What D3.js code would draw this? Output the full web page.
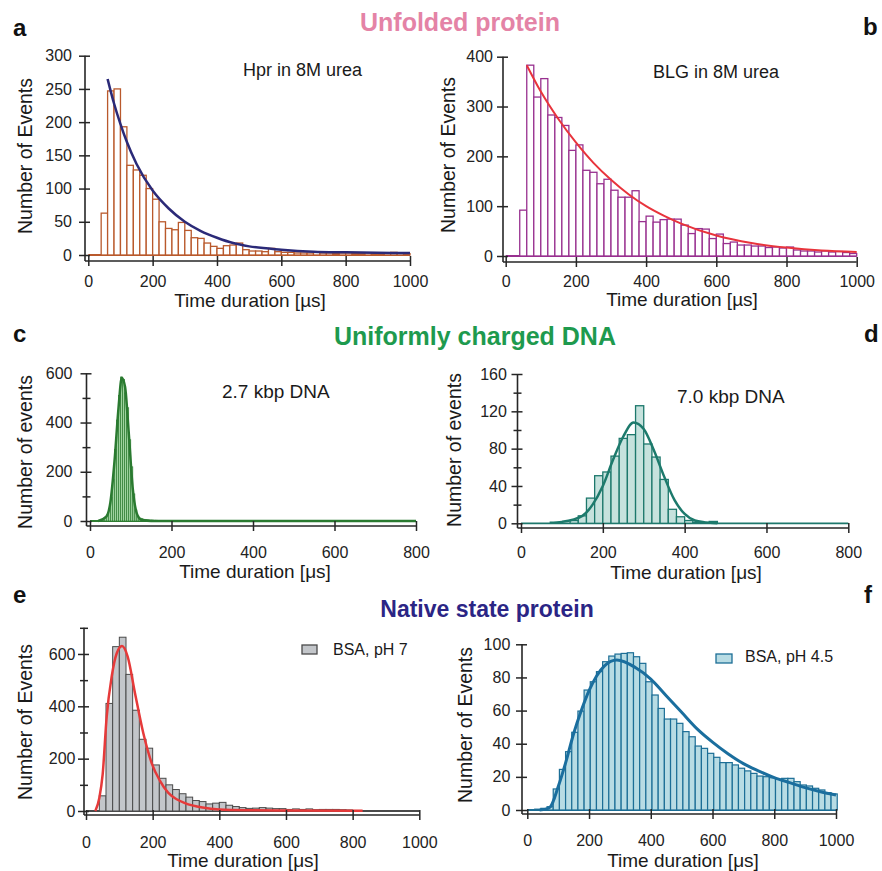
<!DOCTYPE html>
<html>
<head>
<meta charset="utf-8">
<script src="https://cdn.jsdelivr.net/npm/d3@7"></script>
<style>
  body { margin: 0; background: #fff; }
  svg { display: block; font-family: Arial, "Liberation Sans", sans-serif; }
</style>
</head>
<body>
<svg id="chart" width="882" height="871"></svg>
<script>
// Histogram counts, one value per bin (bins)
const hprCounts = [63, 247, 250, 193, 135, 128, 120, 100, 84, 50, 40, 38, 49, 37, 26, 25, 18, 13, 10, 14, 15, 18, 8, 6, 6, 5, 10, 5,
  4, 4, 3, 3, 3, 4, 3, 3, 2, 3, 3, 2, 2, 3, 2, 2, 3, 4, 3, 2];
const blgCounts = [92, 383, 319, 356, 283, 278, 262, 212, 223, 172, 168, 145, 154, 132, 118, 118, 131, 69, 80, 68, 73, 74, 74, 62,
  45, 55, 54, 35, 44, 25, 28, 22, 22, 20, 20, 17, 18, 16, 18, 12, 10, 10, 8, 10, 8, 9, 7, 5];
const dna27Counts = [4, 12, 25, 50, 95, 170, 290, 410, 510, 585, 575, 520, 460, 330, 220, 110, 45, 20, 12, 9, 7, 6, 5, 4, 4, 3, 3, 2, 2, 2];
const dna70Counts = [3, 8, 27, 51, 55, 72, 91, 95, 126, 85, 71, 47, 15, 7, 3, 1, 1, 2];
const bsa7Counts = [58, 411, 628, 664, 522, 385, 274, 240, 176, 125, 100, 82, 66, 53, 40, 36, 27, 30, 33, 22, 17, 13, 10, 11, 13,
  11, 9, 9, 6, 8, 6, 8, 5, 6, 6, 6, 5, 4];
const bsa45Counts = [0.5, 1, 2, 12.7, 24.5, 35.2, 46.9, 59.7, 72.4, 77.4, 83.5, 89.5, 92.9, 94.1, 94.5, 94.9, 92.5, 88.5, 77.4, 69.4,
  61.3, 54.9, 54.9, 52.3, 47.3, 44.2, 38.6, 37.2, 34.2, 31.8, 28.6, 28.6, 27.2, 25.2, 23.6, 22.1, 20.5, 20.1, 19.5, 18.5, 19.1,
  19.1, 17.1, 15.1, 14.5, 13.1, 12.1, 10.5, 9.7];

// Fitted curves, sampled [time, count]
const hprFit = [[60, 265], [80, 228], [100, 197], [120, 170], [150, 137], [200, 97], [250, 70], [300, 50], [350, 36], [400, 26],
  [450, 18], [500, 13], [600, 8], [700, 5], [800, 4], [1000, 3]];
const blgFit = [[60, 383], [100, 330], [150, 275], [200, 228], [250, 187], [300, 153], [350, 124], [400, 100], [450, 81], [500, 65],
  [600, 41], [700, 26], [800, 17], [900, 11], [1000, 8]];
const dna27Fit = [[20, 0], [40, 18], [50, 75], [60, 240], [70, 460], [78, 582], [86, 545], [95, 360], [105, 130], [115, 30],
  [125, 6], [140, 1], [160, 0], [800, 0]];
const dna70Fit = [[70, 0.5], [100, 1.5], [150, 8], [175, 20], [200, 40], [225, 68], [250, 93], [275, 108], [300, 101], [325, 78],
  [350, 50], [375, 25], [400, 10], [425, 3], [450, 1], [480, 0]];
const bsa7Fit = [[28, 0], [40, 50], [50, 140], [62, 360], [77, 513], [92, 602], [108, 630], [125, 590], [147, 450], [172, 297],
  [197, 183], [222, 115], [247, 69], [272, 45], [297, 30], [350, 13], [400, 6], [500, 3], [600, 2], [830, 1]];
const bsa45Fit = [[40, 0], [60, 0.5], [75, 2], [100, 14], [125, 29], [150, 46], [175, 60], [200, 72], [225, 81], [250, 87],
  [290, 90.5], [350, 86], [400, 79], [450, 69], [500, 59], [550, 49], [600, 41], [650, 34], [700, 28], [750, 23.5],
  [800, 19.5], [850, 16.5], [900, 13.5], [950, 11], [1000, 9]];

// Tick values
const ticks1000 = [0, 200, 400, 600, 800, 1000];
const ticks800 = [0, 200, 400, 600, 800];
const hprYTicks = [0, 50, 100, 150, 200, 250, 300];
const blgYTicks = [0, 100, 200, 300, 400];
const dna27YTicks = [0, 200, 400, 600];
const dna27YMinor = [100, 300, 500];
const dna70YTicks = [0, 40, 80, 120, 160];
const dna70YMinor = [20, 60, 100, 140];
const bsa7YTicks = [0, 200, 400, 600];
const bsa7YMinor = [100, 300, 500, 700];
const bsa45YTicks = [0, 20, 40, 60, 80, 100];

const svg = d3.select('#chart');
const axisColor = '#262626';
const fmt = d3.format('d');

const panels = [
  { counts: hprCounts, binStart: 40, binWidth: 20, fit: hprFit, xMax: 1000, yMax: 300, xTicks: ticks1000, yTicks: hprYTicks,
    left: 88.3, right: 410, bottom: 255, top: 55.7, yAxisX: 85, xAxisY: 261, xLabelY: 26, yLabelGap: 13,
    fill: '#fff', stroke: '#b9592c', sw: 1.3, fitColor: '#2b2a78', fitW: 2.5,
    xTitle: [250, 307], yTitle: [32, 156], yText: 'Number of Events', xText: 'Time duration [µs]',
    label: { text: 'Hpr in 8M urea', x: 243, y: 76, size: 18 } },
  { counts: blgCounts, binStart: 40, binWidth: 20, fit: blgFit, xMax: 1000, yMax: 400, xTicks: ticks1000, yTicks: blgYTicks,
    left: 505.7, right: 856.7, bottom: 256, top: 56.7, yAxisX: 503, xAxisY: 262, xLabelY: 25, yLabelGap: 10,
    fill: '#fff', stroke: '#98308f', sw: 1.3, fitColor: '#e8343c', fitW: 2,
    xTitle: [682, 306], yTitle: [455, 155], yText: 'Number of Events', xText: 'Time duration [µs]',
    label: { text: 'BLG in 8M urea', x: 653, y: 78, size: 18 } },
  { counts: dna27Counts, binStart: 30, binWidth: 5, fit: dna27Fit, xMax: 800, yMax: 600, xTicks: ticks800, yTicks: dna27YTicks,
    yMinor: dna27YMinor, left: 90, right: 416, bottom: 521, top: 373.3, yAxisX: 86.5, xAxisY: 526, xLabelY: 32, yLabelGap: 14,
    fill: '#9fd39f', stroke: '#2e7d32', sw: 0.7, fitColor: '#2a7a30', fitW: 2.5,
    xTitle: [255, 578], yTitle: [32, 452], yText: 'Number of events', xText: 'Time duration [μs]',
    label: { text: '2.7 kbp DNA', x: 222, y: 398, size: 19 } },
  { counts: dna70Counts, binStart: 120, binWidth: 20, fit: dna70Fit, xMax: 800, yMax: 160, xTicks: ticks800, yTicks: dna70YTicks,
    yMinor: dna70YMinor, left: 521, right: 848.3, bottom: 523.3, top: 374, yAxisX: 517.5, xAxisY: 528, xLabelY: 30, yLabelGap: 10.6,
    fill: '#c6e2dd', stroke: '#1d786c', sw: 1.3, fitColor: '#1d7a6c', fitW: 2.5,
    xTitle: [686, 579], yTitle: [461, 450], yText: 'Number of events', xText: 'Time duration [μs]',
    label: { text: '7.0 kbp DNA', x: 677, y: 403, size: 19 } },
  { counts: bsa7Counts, binStart: 40, binWidth: 20, fit: bsa7Fit, xMax: 1000, yMax: 700, xTicks: ticks1000, yTicks: bsa7YTicks,
    yMinor: bsa7YMinor, left: 86, right: 419.3, bottom: 811, top: 627.8, yAxisX: 84, xAxisY: 815, xLabelY: 33, yLabelGap: 8.5,
    fill: '#c3c6ca', stroke: '#4a4a4a', sw: 1, fitColor: '#e63a3a', fitW: 2.5,
    xTitle: [243, 867], yTitle: [32, 722], yText: 'Number of Events', xText: 'Time duration [μs]',
    legend: { text: 'BSA, pH 7', x: 302, y: 645, w: 15, h: 9, tx: 333, ty: 655 } },
  { counts: bsa45Counts, binStart: 24, binWidth: 20, fit: bsa45Fit, xMax: 1000, yMax: 100, xTicks: ticks1000, yTicks: bsa45YTicks,
    left: 527.3, right: 836, bottom: 810, top: 644.3, yAxisX: 522, xAxisY: 814, xLabelY: 32, yLabelGap: 11.7,
    fill: '#b8dce4', stroke: '#1c6e96', sw: 1.2, fitColor: '#1a6e9e', fitW: 3,
    xTitle: [683, 867], yTitle: [472, 725], yText: 'Number of Events', xText: 'Time duration [μs]',
    legend: { text: 'BSA, pH 4.5', x: 716, y: 654, w: 16, h: 9, tx: 745, ty: 662 } }
];

function drawPanel(p) {
  const x = d3.scaleLinear().domain([0, p.xMax]).range([p.left, p.right]);
  const y = d3.scaleLinear().domain([0, p.yMax]).range([p.bottom, p.top]);
  const g = svg.append('g');

  // bar baseline across the whole range
  g.append('line')
    .attr('x1', x(0)).attr('x2', x(p.xMax)).attr('y1', y(0)).attr('y2', y(0))
    .attr('stroke', p.stroke).attr('stroke-width', 1.8);

  g.selectAll('rect.bar').data(p.counts).join('rect')
    .attr('class', 'bar')
    .attr('x', (d, i) => x(p.binStart + i * p.binWidth))
    .attr('width', x(p.binWidth) - x(0))
    .attr('y', d => y(d))
    .attr('height', d => y(0) - y(d))
    .attr('fill', p.fill)
    .attr('stroke', p.stroke)
    .attr('stroke-width', p.sw);

  const line = d3.line().x(d => x(d[0])).y(d => y(d[1])).curve(d3.curveMonotoneX);
  g.append('path')
    .attr('d', line(p.fit))
    .attr('fill', 'none')
    .attr('stroke', p.fitColor)
    .attr('stroke-width', p.fitW)
    .attr('stroke-linejoin', 'round');

  // x axis
  const gx = g.append('g')
    .attr('transform', `translate(0,${p.xAxisY})`)
    .call(d3.axisBottom(x).tickValues(p.xTicks).tickFormat(fmt).tickSizeOuter(0));
  gx.attr('font-size', 16).attr('font-family', null);
  gx.select('.domain').remove();
  gx.selectAll('.tick line').attr('y1', -5).attr('y2', 5).attr('stroke', axisColor).attr('stroke-width', 1.5);
  gx.selectAll('.tick text').attr('y', p.xLabelY).attr('dy', null).attr('fill', '#222');
  g.append('line')
    .attr('x1', p.yAxisX).attr('x2', x(p.xMax)).attr('y1', p.xAxisY).attr('y2', p.xAxisY)
    .attr('stroke', axisColor).attr('stroke-width', 1.6);

  // y axis
  const gy = g.append('g')
    .attr('transform', `translate(${p.yAxisX},0)`)
    .call(d3.axisLeft(y).tickValues(p.yTicks).tickFormat(fmt).tickSizeOuter(0));
  gy.attr('font-size', 16).attr('font-family', null);
  gy.select('.domain').remove();
  gy.selectAll('.tick line').attr('x1', -6).attr('x2', 5).attr('stroke', axisColor).attr('stroke-width', 1.5);
  gy.selectAll('.tick text').attr('x', -p.yLabelGap).attr('fill', '#222');
  if (p.yMinor) {
    const gm = g.append('g')
      .attr('transform', `translate(${p.yAxisX},0)`)
      .call(d3.axisLeft(y).tickValues(p.yMinor).tickFormat('').tickSizeOuter(0));
    gm.select('.domain').remove();
    gm.selectAll('.tick line').attr('x1', -4).attr('x2', 4).attr('stroke', axisColor).attr('stroke-width', 1.5);
  }
  g.append('line')
    .attr('x1', p.yAxisX).attr('x2', p.yAxisX).attr('y1', p.xAxisY).attr('y2', y(p.yMax))
    .attr('stroke', axisColor).attr('stroke-width', 1.6);

  // axis titles
  g.append('text')
    .attr('x', p.xTitle[0]).attr('y', p.xTitle[1])
    .attr('text-anchor', 'middle').attr('font-size', 19).attr('fill', '#1a1a1a')
    .text(p.xText);
  g.append('text')
    .attr('transform', `translate(${p.yTitle[0]},${p.yTitle[1]}) rotate(-90)`)
    .attr('text-anchor', 'middle').attr('font-size', 19.5).attr('fill', '#1a1a1a')
    .text(p.yText);

  if (p.label) {
    g.append('text')
      .attr('x', p.label.x).attr('y', p.label.y)
      .attr('font-size', p.label.size).attr('fill', '#1a1a1a')
      .text(p.label.text);
  }
  if (p.legend) {
    const l = p.legend;
    g.append('rect')
      .attr('x', l.x).attr('y', l.y).attr('width', l.w).attr('height', l.h)
      .attr('fill', p.fill).attr('stroke', p.stroke).attr('stroke-width', 1.3);
    g.append('text')
      .attr('x', l.tx).attr('y', l.ty)
      .attr('font-size', 16).attr('fill', '#1a1a1a')
      .text(l.text);
  }
}

panels.forEach(drawPanel);

// section titles
const sections = [
  { text: 'Unfolded protein', x: 460, y: 31, color: '#e483a6', size: 25 },
  { text: 'Uniformly charged DNA', x: 475, y: 345, color: '#1e9a4e', size: 25 },
  { text: 'Native state protein', x: 487, y: 617, color: '#2b2585', size: 23 }
];
svg.selectAll('text.section').data(sections).join('text')
  .attr('class', 'section')
  .attr('x', d => d.x).attr('y', d => d.y)
  .attr('text-anchor', 'middle')
  .attr('font-size', d => d.size).attr('font-weight', 'bold')
  .attr('fill', d => d.color)
  .text(d => d.text);

// panel letters
const letters = [['a', 13, 36], ['b', 863, 35], ['c', 13, 342], ['d', 864, 342], ['e', 13, 603], ['f', 864, 603]];
svg.selectAll('text.letter').data(letters).join('text')
  .attr('class', 'letter')
  .attr('x', d => d[1]).attr('y', d => d[2])
  .attr('font-size', 24).attr('font-weight', 'bold').attr('fill', '#111')
  .text(d => d[0]);
</script>
</body>
</html>
